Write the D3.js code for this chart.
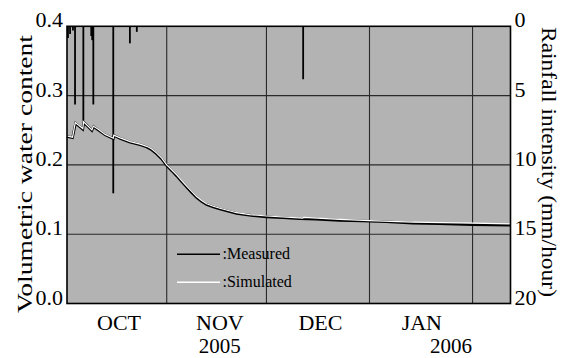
<!DOCTYPE html>
<html><head><meta charset="utf-8">
<script src="https://cdn.jsdelivr.net/npm/d3@7"></script>
<style>body{margin:0;background:#fff}svg{display:block}text{font-family:"Liberation Serif","Times New Roman",serif;fill:#000}</style>
</head><body><svg id="c" width="563" height="358"></svg>
<script>
// ---- data ----
const vwcTicks = [0.0, 0.1, 0.2, 0.3, 0.4];
const rainTicks = [0, 5, 10, 15, 20];
const monthGrid = ["2005-11-01T00", "2005-12-01T00", "2006-01-01T00", "2006-02-01T00"];
const monthLabels = ["OCT", "NOV", "DEC", "JAN"];
const monthLabelDates = ["2005-10-17T12", "2005-11-16T20", "2005-12-17T02", "2006-01-16T14"];
const yearLabels = ["2005", "2006"];
const yearLabelDates = ["2005-11-16T20", "2006-01-25T08"];
const legendLabels = [":Measured", ":Simulated"];

const rainTimes = ["2005-10-02T07", "2005-10-02T22", "2005-10-03T19", "2005-10-04T10", "2005-10-06T22",
  "2005-10-09T07", "2005-10-09T14", "2005-10-09T22", "2005-10-15T22", "2005-10-20T22", "2005-10-23T00", "2005-12-12T01"];
const rainValues = [0.85, 0.55, 0.3, 5.64, 6.8, 0.7, 1.0, 5.64, 12.05, 1.23, 0.4, 3.82];

const simTimes = ["2005-10-02T00", "2005-10-03T16", "2005-10-04T12", "2005-10-06T18", "2005-10-07T00",
  "2005-10-09T12", "2005-10-09T22", "2005-10-11T12", "2005-10-13T12", "2005-10-15T22", "2005-10-16T02",
  "2005-10-18T00", "2005-10-21T00", "2005-10-24T00", "2005-10-26T00", "2005-10-27T12", "2005-10-29T00",
  "2005-10-30T12", "2005-11-01T00", "2005-11-02T12", "2005-11-04T00", "2005-11-05T12", "2005-11-07T00",
  "2005-11-08T12", "2005-11-10T00", "2005-11-11T12", "2005-11-13T00", "2005-11-15T00", "2005-11-17T00",
  "2005-11-19T12", "2005-11-22T00", "2005-11-26T00", "2005-12-01T00", "2005-12-11T22", "2005-12-12T04",
  "2005-12-23T00", "2006-01-01T00", "2006-01-14T00", "2006-02-01T00", "2006-02-12T09"];
const simValues = [0.2417, 0.2400, 0.2612, 0.2525, 0.2622,
  0.2505, 0.2560, 0.2510, 0.2440, 0.2385, 0.2430,
  0.2390, 0.2335, 0.2300, 0.2268, 0.2228, 0.2170,
  0.2098, 0.2000, 0.1930, 0.1855, 0.1775, 0.1695,
  0.1617, 0.1545, 0.1486, 0.1440, 0.1403, 0.1375,
  0.1342, 0.1310, 0.1283, 0.1263, 0.1232, 0.1242,
  0.1215, 0.1197, 0.1175, 0.1160, 0.1150];

const measTimes = ["2005-10-02T00", "2005-10-03T16", "2005-10-04T14", "2005-10-06T18", "2005-10-07T02",
  "2005-10-09T12", "2005-10-10T00", "2005-10-11T12", "2005-10-13T12", "2005-10-15T22", "2005-10-16T04",
  "2005-10-18T00", "2005-10-21T00", "2005-10-24T00", "2005-10-26T00", "2005-10-27T12", "2005-10-29T00",
  "2005-10-30T12", "2005-11-01T00", "2005-11-02T12", "2005-11-04T00", "2005-11-05T12", "2005-11-07T00",
  "2005-11-08T12", "2005-11-10T00", "2005-11-11T12", "2005-11-13T00", "2005-11-15T00", "2005-11-17T00",
  "2005-11-19T12", "2005-11-22T00", "2005-11-27T00", "2005-12-01T00", "2005-12-06T00", "2005-12-11T00",
  "2005-12-16T00", "2005-12-23T00", "2005-12-30T00", "2006-01-06T00", "2006-01-14T00", "2006-01-22T00",
  "2006-02-01T00", "2006-02-12T09"];
const measValues = [0.2410, 0.2392, 0.2600, 0.2515, 0.2612,
  0.2497, 0.2550, 0.2500, 0.2432, 0.2378, 0.2422,
  0.2382, 0.2327, 0.2292, 0.2258, 0.2216, 0.2157,
  0.2085, 0.1988, 0.1916, 0.1840, 0.1760, 0.1680,
  0.1602, 0.1530, 0.1472, 0.1428, 0.1392, 0.1362,
  0.1330, 0.1298, 0.1268, 0.1250, 0.1238, 0.1222,
  0.1218, 0.1200, 0.1190, 0.1180, 0.1160, 0.1150,
  0.1138, 0.1130];

// ---- chart ----
const parse = d3.utcParse("%Y-%m-%dT%H");
const W = 563, H = 358;
const m = {left: 67, right: 510.5, top: 26.3, bottom: 303.5};
const FONT = "'Liberation Serif', 'Times New Roman', serif";
const svg = d3.select("#c");
svg.append("rect").attr("width", W).attr("height", H).attr("fill", "#fff");

const x = d3.scaleUtc().domain([parse("2005-10-02T00"), parse("2006-02-12T10")]).range([m.left, m.right]);
const y = d3.scaleLinear().domain([0, 0.4]).range([m.bottom, m.top]);
const yR = d3.scaleLinear().domain([0, 20]).range([m.top, m.bottom]);

svg.append("rect").attr("x", m.left).attr("y", m.top).attr("width", m.right - m.left).attr("height", m.bottom - m.top)
  .attr("fill", "#b3b3b3");

// gridlines
const grid = svg.append("g").attr("stroke", "#2a2a2a").attr("stroke-width", 1.1);
grid.selectAll("line.h").data(vwcTicks.slice(1, -1)).join("line")
  .attr("x1", m.left).attr("x2", m.right).attr("y1", d => y(d)).attr("y2", d => y(d));
grid.selectAll("line.v").data(monthGrid).join("line")
  .attr("y1", m.top).attr("y2", m.bottom).attr("x1", d => x(parse(d))).attr("x2", d => x(parse(d)));

// rainfall bars
svg.append("g").selectAll("line").data(rainTimes.map((t, i) => ({t: parse(t), v: rainValues[i]}))).join("line")
  .attr("x1", d => x(d.t)).attr("x2", d => x(d.t)).attr("y1", m.top).attr("y2", d => yR(d.v))
  .attr("stroke", "#000").attr("stroke-width", 1.8);

// curves
const line = d3.line().x(d => x(d.t)).y(d => y(d.v)).curve(d3.curveLinear);
const meas = measTimes.map((t, i) => ({t: parse(t), v: measValues[i]}));
const sim = simTimes.map((t, i) => ({t: parse(t), v: simValues[i]}));
svg.append("path").datum(meas).attr("d", line).attr("fill", "none").attr("stroke", "#000").attr("stroke-width", 2.6);
svg.append("path").datum(sim).attr("d", line).attr("fill", "none").attr("stroke", "#fff").attr("stroke-width", 1.2);

// frame
svg.append("rect").attr("x", m.left).attr("y", m.top).attr("width", m.right - m.left).attr("height", m.bottom - m.top)
  .attr("fill", "none").attr("stroke", "#000").attr("stroke-width", 1.6);

function styleText(sel, size) {
  sel.attr("font-family", FONT).style("font-family", FONT).style("font-size", size + "px").attr("fill", "#000");
}

// left axis
const ax = svg.append("g").attr("transform", `translate(${m.left},0)`)
  .call(d3.axisLeft(y).tickValues(vwcTicks).tickFormat(d3.format(".1f")).tickSize(0).tickPadding(4));
ax.select(".domain").remove();
ax.attr("font-family", FONT);
styleText(ax.selectAll("text").attr("dy", "0.03em"), 22);

// right axis
const axR = svg.append("g").attr("transform", `translate(${m.right},0)`)
  .call(d3.axisRight(yR).tickValues(rainTicks).tickFormat(d3.format("d")).tickSize(0).tickPadding(4));
axR.select(".domain").remove();
axR.attr("font-family", FONT);
styleText(axR.selectAll("text").attr("dy", "0.03em"), 22);

// bottom month / year labels
const axB = svg.append("g").attr("transform", `translate(0,${m.bottom})`)
  .call(d3.axisBottom(x).tickValues(monthLabelDates.map(parse)).tickFormat((d, i) => monthLabels[i]).tickSize(0).tickPadding(0));
axB.select(".domain").remove();
axB.attr("font-family", FONT);
styleText(axB.selectAll("text").attr("dy", null).attr("y", 26.5), 22);
const axY = svg.append("g").attr("transform", `translate(0,${m.bottom})`)
  .call(d3.axisBottom(x).tickValues(yearLabelDates.map(parse)).tickFormat((d, i) => yearLabels[i]).tickSize(0).tickPadding(0));
axY.select(".domain").remove();
axY.attr("font-family", FONT);
styleText(axY.selectAll("text").attr("dy", null).attr("y", 49.5), 21);

// titles
styleText(svg.append("text").attr("transform", "translate(32,174) rotate(-90)").attr("text-anchor", "middle")
  .attr("textLength", 278).attr("lengthAdjust", "spacingAndGlyphs").text("Volumetric water content"), 22);
styleText(svg.append("text").attr("transform", "translate(542,162) rotate(90)").attr("text-anchor", "middle")
  .attr("textLength", 270).attr("lengthAdjust", "spacingAndGlyphs").text("Rainfall intensity (mm/hour)"), 20);

// legend
const leg = svg.append("g");
[0, 1].forEach(i => {
  const ly = 254.3 + i * 28;
  leg.append("line").attr("x1", 177).attr("x2", 220).attr("y1", ly).attr("y2", ly)
    .attr("stroke", i === 0 ? "#000" : "#fff").attr("stroke-width", 1.4);
  styleText(leg.append("text").attr("x", 222.5).attr("y", ly + 4.8).text(legendLabels[i]), 16);
});
</script></body></html>
